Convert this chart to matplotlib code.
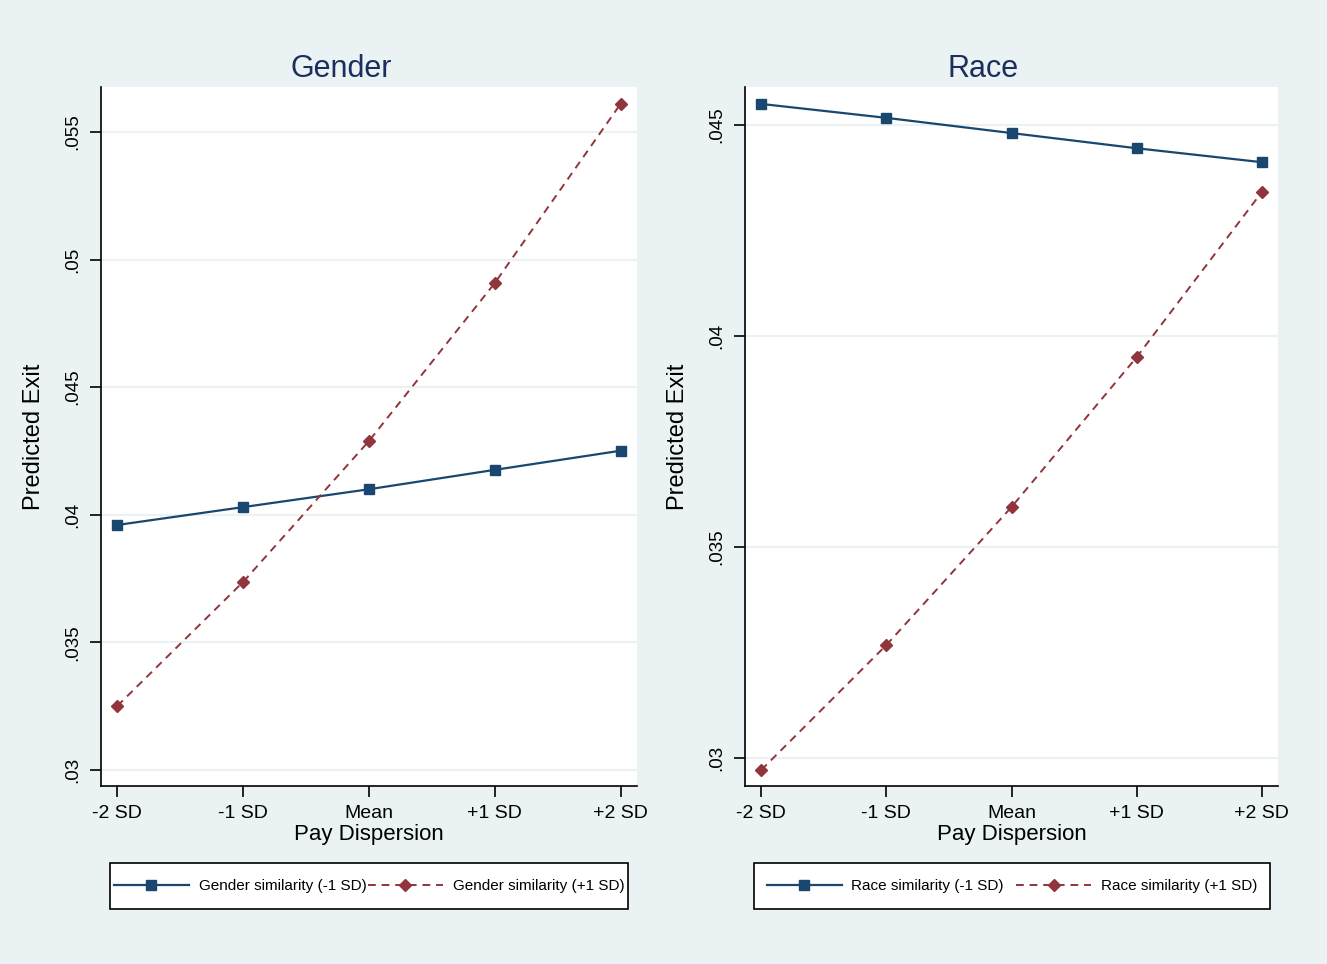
import numpy as np
import matplotlib.pyplot as plt
from matplotlib.patches import Rectangle

plt.rcParams['font.family'] = ['Liberation Sans', 'DejaVu Sans']

x_labels = ['-2 SD', '-1 SD', 'Mean', '+1 SD', '+2 SD']
x = np.arange(-2, 3)

gender_low = [0.0396, 0.0403, 0.0410, 0.04176, 0.04251]
gender_high = [0.03251, 0.03737, 0.04289, 0.04908, 0.0561]
race_low = [0.0455, 0.04517, 0.04481, 0.04445, 0.04412]
race_high = [0.02972, 0.03268, 0.03595, 0.0395, 0.04341]

bg = '#eaf2f3'
navy = '#1a476f'
maroon = '#90353b'
title_col = '#1c2e5e'

W, H = 1327, 964
fig = plt.figure(figsize=(W / 100, H / 100), dpi=100, facecolor=bg)


def panel(rect, title, tx, low, high, names, yticks, ytl, ylim, colsp, box):
    ax = fig.add_axes(rect)
    ax.set_facecolor('white')
    ax.plot(x, low, color=navy, lw=1.6, marker='s', ms=7.5, label=names[0])
    ax.plot(x, high, color=maroon, lw=1.4, ls=(0, (4, 3)), marker='D', ms=6.3, label=names[1])
    ax.set_xlim(-2.13, 2.13)
    ax.set_ylim(*ylim)
    ax.set_xticks(x, x_labels, fontsize=14)
    ax.set_yticks(yticks, ytl, fontsize=13.5, rotation=90, va='center')
    ax.grid(axis='y', color=bg, lw=1.5)
    ax.set_axisbelow(True)
    for s in ['top', 'right']:
        ax.spines[s].set_visible(False)
    for s in ['left', 'bottom']:
        ax.spines[s].set_linewidth(1.2)
    ax.tick_params(direction='out', length=8, width=1.2, pad=6)
    ax.set_title(title, fontsize=22, color=title_col, pad=7, x=tx)
    ax.set_xlabel('Pay Dispersion', fontsize=16, labelpad=1)
    ax.set_ylabel('Predicted Exit', fontsize=17, labelpad=14)

    # legend box drawn by hand (Stata style: tight sides, tall top/bottom)
    x0, x1, y0, y1 = box
    fig.patches.append(Rectangle((x0 / W, 1 - y1 / H), (x1 - x0) / W, (y1 - y0) / H,
                                 transform=fig.transFigure, facecolor='white',
                                 edgecolor='black', lw=1.2, zorder=-1))
    ax.legend(loc='center', bbox_to_anchor=((x0 + x1) / 2 / W, 1 - (y0 + y1) / 2 / H),
              bbox_transform=fig.transFigure, ncol=2, fontsize=11, frameon=False,
              handlelength=4.9, columnspacing=colsp, handletextpad=0.65,
              borderpad=0, borderaxespad=0)
    return ax


panel([0.0761, 0.1846, 0.4039, 0.7251], 'Gender', 0.448, gender_low, gender_high,
      ['Gender similarity (-1 SD)', 'Gender similarity (+1 SD)'],
      [0.03, 0.035, 0.04, 0.045, 0.05, 0.055],
      ['.03', '.035', '.04', '.045', '.05', '.055'], (0.02937, 0.05676), 0.1,
      (110, 628, 863, 909))

panel([0.5614, 0.1846, 0.4017, 0.7251], 'Race', 0.4475, race_low, race_high,
      ['Race similarity (-1 SD)', 'Race similarity (+1 SD)'],
      [0.03, 0.035, 0.04, 0.045],
      ['.03', '.035', '.04', '.045'], (0.02934, 0.0459), 0.8,
      (754, 1270, 863, 909))

fig.savefig('out.png', dpi=100, facecolor=bg)
